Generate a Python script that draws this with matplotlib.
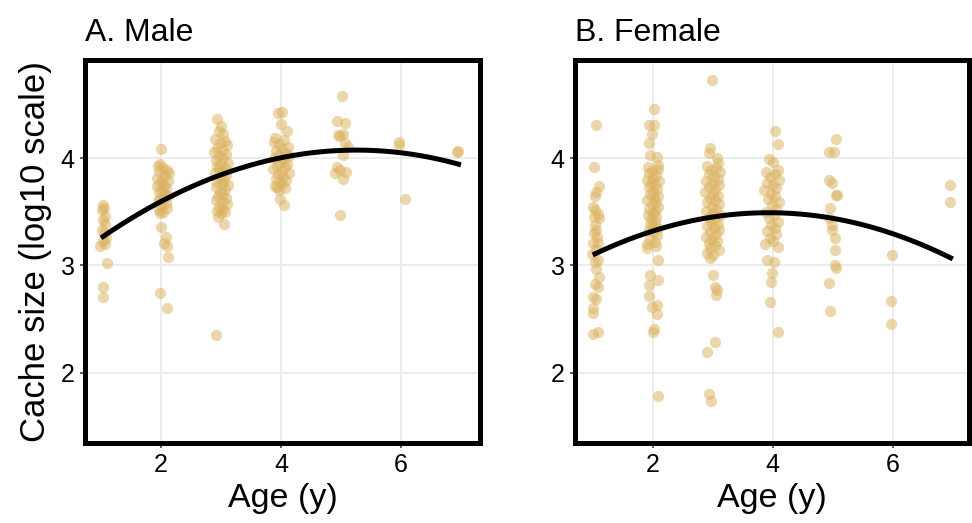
import numpy as np
import matplotlib
matplotlib.use("Agg")
import matplotlib.pyplot as plt

plt.rcParams['font.family'] = ['Liberation Sans', 'DejaVu Sans']

# jittered age (x) and log10 cache size (y)
male_x = [
    # age 1
    1.03, 1.05, 1.02, 1.06, 1.04, 1.07, 1.01, 1.05, 1.08, 1.03, 0.99, 1.06, 1.10, 1.04, 1.03,
    # age 2
    2.00, 1.98, 2.10, 2.13, 1.95, 2.04, 1.97, 2.07, 1.94, 2.02, 2.11, 1.99, 2.05, 1.93, 2.09,
    2.01, 1.96, 2.06, 2.12, 1.98, 2.03, 1.95, 2.08, 2.00, 2.10, 1.97, 2.04, 1.99, 2.00, 2.08,
    2.05, 2.10, 2.12, 1.98, 2.10,
    # age 3
    2.93, 3.00, 3.03, 2.97, 2.95, 3.05, 2.92,
    2.90, 3.06, 2.98, 3.10, 2.94, 3.02, 2.89, 3.08, 2.96, 3.04, 2.91, 3.12, 3.00, 2.93, 3.07,
    2.97, 3.03, 2.90, 3.09, 2.99, 3.05, 2.94, 3.01, 3.11, 2.92, 3.06, 2.98, 3.03, 2.95, 3.08,
    2.91, 3.02, 3.10, 2.97, 3.04, 2.93, 3.00, 3.07,
    # age 4
    4.02, 3.95, 4.00, 4.10, 3.90, 3.98, 4.05, 3.93,
    4.05, 3.88, 3.97, 4.12, 4.01, 3.92, 4.08, 3.96, 4.14, 3.89, 4.03, 3.99, 4.10, 3.94, 4.06,
    3.87, 4.01, 4.13, 3.95, 4.04, 3.91, 4.09, 3.98, 4.02, 3.90, 4.07, 3.96,
    # age 5
    5.01, 4.94, 5.07, 4.955, 5.04, 4.99, 5.07, 5.11, 5.03, 4.93, 4.98, 5.09, 4.90, 5.04, 4.99,
    # age 6
    5.97, 5.97, 6.06,
    # age 7
    6.95, 6.94,
]
male_y = [
    3.56, 3.54, 3.52, 3.46, 3.42, 3.39, 3.33, 3.30, 3.26, 3.23, 3.18, 3.20, 3.02, 2.80, 2.71,
    4.09, 3.95, 3.89, 3.86, 3.93, 3.91, 3.88, 3.84, 3.82, 3.80, 3.79, 3.77, 3.75, 3.74, 3.72,
    3.70, 3.69, 3.67, 3.65, 3.63, 3.62, 3.60, 3.58, 3.56, 3.54, 3.52, 3.50, 3.49, 3.36, 3.27,
    3.21, 3.18, 3.08, 2.74, 2.60,
    4.37, 4.30, 4.23, 4.25, 3.455, 3.39, 2.35,
    4.18, 4.16, 4.14, 4.12, 4.10, 4.08, 4.06, 4.04, 4.02, 4.00, 3.98, 3.96, 3.95, 3.93, 3.91,
    3.90, 3.88, 3.86, 3.84, 3.82, 3.80, 3.78, 3.76, 3.75, 3.73, 3.71, 3.69, 3.67, 3.65, 3.63,
    3.61, 3.59, 3.57, 3.55, 3.53, 3.51, 3.49, 3.50,
    4.435, 4.42, 4.32, 4.25, 4.19, 3.62, 3.565, 3.735,
    4.17, 4.15, 4.13, 4.11, 4.09, 4.07, 4.05, 4.03, 4.02, 4.00, 3.99, 3.97, 3.95, 3.93, 3.92,
    3.90, 3.88, 3.86, 3.85, 3.83, 3.81, 3.80, 3.78, 3.76, 3.74, 3.72, 3.70,
    4.58, 4.35, 4.33, 4.217, 4.227, 4.21, 4.14, 4.108, 4.03, 3.916, 3.89, 3.875, 3.86, 3.81, 3.47,
    4.15, 4.12, 3.62,
    4.07, 4.06,
]

female_x = [
    # age 1
    1.05, 1.02, 1.10, 1.06, 1.04, 1.00, 1.09, 1.10, 1.03, 1.06, 1.02, 1.09, 1.00, 0.98, 1.03,
    1.06, 1.10, 1.03, 1.09, 1.00, 1.06, 1.00, 1.00, 1.00, 1.09, 1.04, 1.07, 1.02, 1.05, 1.08,
    # age 2
    2.02, 1.93, 2.02, 1.99, 1.93, 1.96, 2.07, 2.09,
    1.92, 2.08, 1.99, 1.94, 2.06, 2.01, 1.90, 2.10, 1.97, 2.04, 1.93, 2.07, 2.00, 1.95, 2.09,
    2.02, 1.91, 2.05, 1.98, 2.08, 1.94, 2.03, 2.00, 1.92, 2.06, 1.97, 2.04, 1.95, 2.01, 2.09,
    1.93, 2.00, 2.07, 1.96, 2.03, 1.91, 2.05,
    1.90, 2.09, 1.95, 2.09, 1.93, 1.93, 2.07, 1.99, 2.07, 2.02, 2.00, 2.09,
    # age 3
    2.98, 2.955, 2.93, 3.07, 3.09,
    2.90, 3.05, 2.97, 3.12, 2.93, 3.02, 3.08, 2.88, 2.99, 3.10, 2.94, 3.04, 2.87, 3.01, 3.09,
    2.96, 3.03, 2.91, 3.11, 2.98, 3.06, 2.89, 3.00, 3.13, 2.94, 3.04, 2.97, 3.08, 2.90, 3.02,
    3.10, 2.95, 3.05, 2.88, 2.99, 3.07, 2.93, 3.03, 2.96, 3.11, 2.91, 3.00,
    2.955, 3.01, 3.04, 3.07, 3.06, 3.04, 2.91, 2.93, 2.97,
    # age 4
    4.03, 4.08, 3.94, 4.01, 4.09,
    3.88, 4.03, 3.95, 4.10, 3.91, 4.00, 4.06, 3.86, 3.97, 4.04, 3.92, 4.11, 3.99, 4.05, 3.89,
    4.02, 3.94, 4.08, 3.97, 4.03, 3.90, 4.06, 3.96, 4.01, 3.87,
    4.09, 3.90, 4.02, 3.98, 3.97, 3.96, 4.08,
    # age 5
    5.05, 4.94, 5.02, 4.93, 4.98, 5.06, 5.07, 4.955, 4.93, 4.98, 4.99, 5.04, 5.03, 5.03, 5.06,
    4.93, 4.955,
    # age 6
    5.98, 5.97, 5.97,
    # age 7
    6.955, 6.955,
]
female_y = [
    4.31, 3.92, 3.74, 3.69, 3.65, 3.55, 3.48, 3.44, 3.38, 3.33, 3.30, 3.21, 3.21, 3.11, 3.035,
    2.97, 2.895, 2.83, 2.80, 2.71, 2.69, 2.60, 2.56, 2.36, 2.38, 3.52, 3.27, 3.45, 3.15, 3.05,
    4.457, 4.31, 4.31, 4.23, 4.14, 4.03, 4.015, 3.94,
    3.92, 3.90, 3.88, 3.86, 3.84, 3.82, 3.80, 3.79, 3.77, 3.75, 3.73, 3.71, 3.69, 3.67, 3.65,
    3.63, 3.61, 3.59, 3.57, 3.55, 3.53, 3.51, 3.49, 3.47, 3.45, 3.43, 3.41, 3.39, 3.37, 3.35,
    3.33, 3.31, 3.28, 3.25, 3.22, 3.20, 3.18,
    3.16, 3.05, 2.91, 2.865, 2.82, 2.715, 2.63, 2.615, 2.545, 2.41, 2.38, 1.78,
    4.73, 4.093, 4.047, 4.00, 3.953,
    3.93, 3.91, 3.89, 3.87, 3.85, 3.83, 3.81, 3.79, 3.77, 3.75, 3.73, 3.71, 3.69, 3.67, 3.65,
    3.63, 3.61, 3.59, 3.57, 3.55, 3.53, 3.51, 3.49, 3.47, 3.45, 3.43, 3.41, 3.39, 3.37, 3.35,
    3.33, 3.31, 3.29, 3.27, 3.25, 3.23, 3.21, 3.19, 3.16, 3.14, 3.12, 3.10,
    3.07, 2.91, 2.80, 2.77, 2.725, 2.29, 2.196, 1.80, 1.74,
    4.258, 4.13, 3.99, 3.97, 3.89,
    3.87, 3.85, 3.83, 3.80, 3.77, 3.75, 3.72, 3.70, 3.67, 3.65, 3.62, 3.59, 3.56, 3.53, 3.50,
    3.47, 3.44, 3.41, 3.38, 3.35, 3.32, 3.29, 3.26, 3.23, 3.20,
    3.175, 3.05, 3.035, 2.93, 2.85, 2.66, 2.38,
    4.177, 4.056, 4.056, 3.80, 3.767, 3.66, 3.66, 3.534, 3.44, 3.378, 3.33, 3.26, 3.14, 3.005, 2.98,
    2.84, 2.58,
    3.098, 2.67, 2.45,
    3.75, 3.595,
]

# fitted quadratic trend at each age
fit_ages = [1, 2, 3, 4, 5, 6, 7]
male_fit = [3.26, 3.59, 3.85, 4.01, 4.07, 4.05, 3.94]
female_fit = [3.10, 3.315, 3.455, 3.50, 3.44, 3.285, 3.067]

titles = ["A. Male", "B. Female"]
point_color = "#DBB15C"


def panel(ax, x, y, fit, title, xlim):
    ax.scatter(x, y, s=66, color=point_color, alpha=0.5, linewidths=0, zorder=2)

    # the trend is a second order polynomial
    coef = np.polyfit(fit_ages, fit, 2)
    xs = np.linspace(min(fit_ages), max(fit_ages), 200)
    ax.plot(xs, np.polyval(coef, xs), color="black", lw=3.6, zorder=3,
            solid_capstyle="butt")

    ax.set_xlim(*xlim)
    ax.set_ylim(1.344, 4.917)
    ax.set_xticks([2, 4, 6])
    ax.set_yticks([2, 3, 4])
    ax.grid(True, color="#EBEBEB", lw=1.3, zorder=0)
    ax.set_axisbelow(True)
    for s in ax.spines.values():
        s.set_linewidth(3.6)
        s.set_color("black")
    ax.tick_params(length=3.5, width=1.1, color="#333333", labelsize=18,
                   labelcolor="black", pad=4)
    ax.set_xlabel("Age (y)", fontsize=24.5, labelpad=4)
    ax.set_title(title, loc="left", fontsize=23, pad=14)


fig = plt.figure(figsize=(9.72, 5.23), dpi=100)
ax1 = fig.add_axes([85 / 972, 1 - 443 / 523, 395 / 972, 383 / 523])
ax2 = fig.add_axes([575 / 972, 1 - 443 / 523, 394 / 972, 383 / 523])

panel(ax1, male_x, male_y, male_fit, titles[0], (0.733, 7.317))
panel(ax2, female_x, female_y, female_fit, titles[1], (0.705, 7.27))
ax1.set_ylabel("Cache size (log10 scale)", fontsize=25, labelpad=6)

fig.savefig("out.png", dpi=100)
